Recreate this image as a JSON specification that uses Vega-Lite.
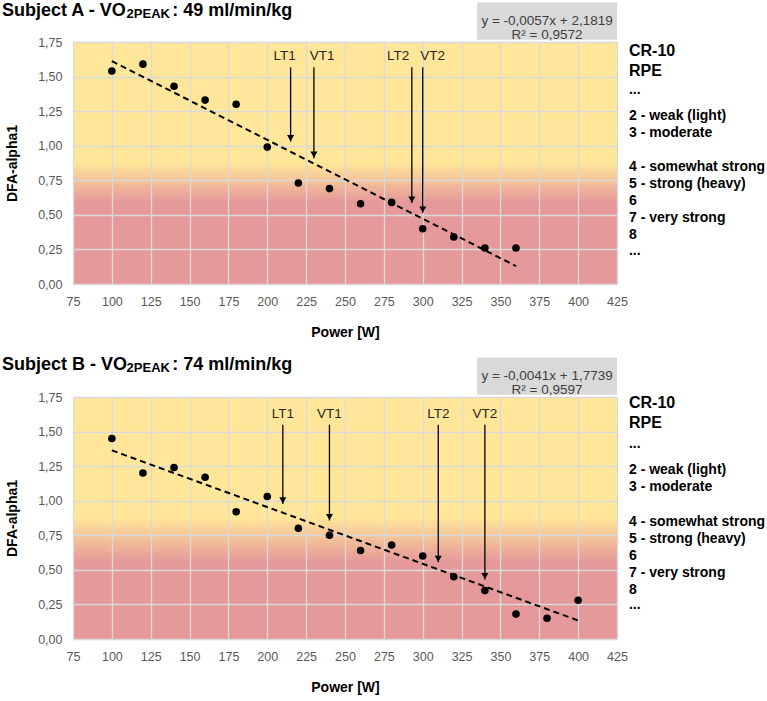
{
  "$schema": "https://vega.github.io/schema/vega-lite/v6.json",
  "padding": {"left": 1, "top": 1, "right": 0, "bottom": 0},
  "background": "#ffffff",
  "datasets": {
    "pointsA": [
      {"power": 100, "dfa": 1.54}, {"power": 120, "dfa": 1.59}, {"power": 140, "dfa": 1.43},
      {"power": 160, "dfa": 1.33}, {"power": 180, "dfa": 1.30}, {"power": 200, "dfa": 0.99},
      {"power": 220, "dfa": 0.73}, {"power": 240, "dfa": 0.69}, {"power": 260, "dfa": 0.58},
      {"power": 280, "dfa": 0.59}, {"power": 300, "dfa": 0.40}, {"power": 320, "dfa": 0.34},
      {"power": 340, "dfa": 0.26}, {"power": 360, "dfa": 0.26}
    ],
    "trendA": [{"power": 100, "dfa": 1.612}, {"power": 360, "dfa": 0.130}],
    "arrowsA": [
      {"marker": "LT1", "power": 215, "tip": 1.03},
      {"marker": "VT1", "power": 230, "tip": 0.91},
      {"marker": "LT2", "power": 293, "tip": 0.586},
      {"marker": "VT2", "power": 300, "tip": 0.513}
    ],
    "pointsB": [
      {"power": 100, "dfa": 1.45}, {"power": 120, "dfa": 1.20}, {"power": 140, "dfa": 1.24},
      {"power": 160, "dfa": 1.17}, {"power": 180, "dfa": 0.92}, {"power": 200, "dfa": 1.03},
      {"power": 220, "dfa": 0.80}, {"power": 240, "dfa": 0.75}, {"power": 260, "dfa": 0.64},
      {"power": 280, "dfa": 0.68}, {"power": 300, "dfa": 0.60}, {"power": 320, "dfa": 0.45},
      {"power": 340, "dfa": 0.35}, {"power": 360, "dfa": 0.18}, {"power": 380, "dfa": 0.15},
      {"power": 400, "dfa": 0.28}
    ],
    "trendB": [{"power": 100, "dfa": 1.364}, {"power": 400, "dfa": 0.134}],
    "arrowsB": [
      {"marker": "LT1", "power": 210, "tip": 0.977},
      {"marker": "VT1", "power": 240, "tip": 0.857},
      {"marker": "LT2", "power": 310, "tip": 0.555},
      {"marker": "VT2", "power": 340, "tip": 0.43}
    ]
  },
  "vconcat": [
    {
      "width": 544,
      "height": 242,
      "view": {"stroke": null, "fill": {"gradient": "linear", "x1": 0, "y1": 0, "x2": 0, "y2": 1, "stops": [{"offset": 0, "color": "#FFE699"}, {"offset": 0.5, "color": "#FFE699"}, {"offset": 0.66, "color": "#E6999A"}, {"offset": 1, "color": "#E6999A"}]}},
      "layer": [
        {
          "data": {"values": [{}]},
          "mark": {"type": "rect", "fill": "#D9D9D9", "clip": false},
          "encoding": {"x": {"datum": 335, "type": "quantitative"}, "x2": {"datum": 425}, "y": {"datum": 1.767, "type": "quantitative"}, "y2": {"datum": 2.035}}
        },
        {
          "data": {"values": [{}]},
          "mark": {"type": "text", "align": "center", "baseline": "middle", "fontSize": 13.5, "color": "#404040", "lineHeight": 14.8, "text": ["y = -0,0057x + 2,1819", "R² = 0,9572"]},
          "encoding": {"x": {"datum": 380, "type": "quantitative"}, "y": {"datum": 1.905, "type": "quantitative"}}
        },
        {
          "data": {"values": [{}]},
          "mark": {"type": "text", "align": "left", "baseline": "alphabetic", "fontSize": 18, "fontWeight": "bold", "color": "#000000", "text": "Subject A - VO"},
          "encoding": {"x": {"datum": 29.3, "type": "quantitative"}, "y": {"datum": 1.94, "type": "quantitative"}}
        },
        {
          "data": {"values": [{}]},
          "mark": {"type": "text", "align": "left", "baseline": "alphabetic", "fontSize": 13, "fontWeight": "bold", "color": "#000000", "dy": 2, "text": "2PEAK"},
          "encoding": {"x": {"datum": 109.5, "type": "quantitative"}, "y": {"datum": 1.94, "type": "quantitative"}}
        },
        {
          "data": {"values": [{}]},
          "mark": {"type": "text", "align": "left", "baseline": "alphabetic", "fontSize": 18, "fontWeight": "bold", "color": "#000000", "text": ": 49 ml/min/kg"},
          "encoding": {"x": {"datum": 138.9, "type": "quantitative"}, "y": {"datum": 1.94, "type": "quantitative"}}
        },
        {
          "data": {"values": [{}]},
          "mark": {"type": "text", "align": "left", "baseline": "alphabetic", "fontSize": 16, "fontWeight": "bold", "color": "#000000", "lineHeight": 19.3, "text": ["CR-10", "RPE"]},
          "encoding": {"x": {"datum": 432.7, "type": "quantitative"}, "y": {"datum": 1.646, "type": "quantitative"}}
        },
        {
          "data": {"values": [{}]},
          "mark": {"type": "text", "align": "left", "baseline": "alphabetic", "fontSize": 14, "fontWeight": "bold", "color": "#000000", "text": "..."},
          "encoding": {"x": {"datum": 432.7, "type": "quantitative"}, "y": {"datum": 1.377, "type": "quantitative"}}
        },
        {
          "data": {"values": [{}]},
          "mark": {"type": "text", "align": "left", "baseline": "alphabetic", "fontSize": 14, "fontWeight": "bold", "color": "#000000", "lineHeight": 17, "text": ["2 - weak (light)", "3 - moderate"]},
          "encoding": {"x": {"datum": 432.7, "type": "quantitative"}, "y": {"datum": 1.186, "type": "quantitative"}}
        },
        {
          "data": {"values": [{}]},
          "mark": {"type": "text", "align": "left", "baseline": "alphabetic", "fontSize": 14, "fontWeight": "bold", "color": "#000000", "lineHeight": 17, "text": ["4 - somewhat strong", "5 - strong (heavy)", "6", "7 - very strong", "8"]},
          "encoding": {"x": {"datum": 432.7, "type": "quantitative"}, "y": {"datum": 0.817, "type": "quantitative"}}
        },
        {
          "data": {"values": [{}]},
          "mark": {"type": "text", "align": "left", "baseline": "alphabetic", "fontSize": 14, "fontWeight": "bold", "color": "#000000", "text": "..."},
          "encoding": {"x": {"datum": 432.7, "type": "quantitative"}, "y": {"datum": 0.21, "type": "quantitative"}}
        },
        {
          "data": {"name": "trendA"},
          "mark": {"type": "line", "color": "#000000", "strokeWidth": 2, "strokeDash": [6, 4]},
          "encoding": {"x": {"field": "power", "type": "quantitative"}, "y": {"field": "dfa", "type": "quantitative"}}
        },
        {
          "data": {"name": "pointsA"},
          "mark": {"type": "circle", "color": "#000000", "opacity": 1, "size": 58},
          "encoding": {
            "x": {"field": "power", "type": "quantitative", "scale": {"domain": [75, 425], "nice": false, "zero": false}, "axis": {"title": "Power [W]", "tickCount": 20, "values": [75, 100, 125, 150, 175, 200, 225, 250, 275, 300, 325, 350, 375, 400, 425]}},
            "y": {"field": "dfa", "type": "quantitative", "scale": {"domain": [0, 1.75], "nice": false}, "axis": {"title": "DFA-alpha1", "tickCount": 20, "values": [0, 0.25, 0.5, 0.75, 1, 1.25, 1.5, 1.75], "labelExpr": "replace(format(datum.value, '.2f'), '.', ',')"}}
          }
        },
        {
          "data": {"name": "arrowsA"},
          "mark": {"type": "rule", "color": "#000000", "strokeWidth": 1.3},
          "encoding": {"x": {"field": "power", "type": "quantitative"}, "y": {"field": "tip", "type": "quantitative"}, "y2": {"datum": 1.567}}
        },
        {
          "data": {"name": "arrowsA"},
          "mark": {"type": "point", "shape": "triangle-down", "filled": true, "color": "#000000", "opacity": 1, "size": 50, "yOffset": -3.5},
          "encoding": {"x": {"field": "power", "type": "quantitative"}, "y": {"field": "tip", "type": "quantitative"}}
        },
        {
          "data": {"values": [{}]},
          "mark": {"type": "text", "baseline": "middle", "align": "center", "fontSize": 13.5, "color": "#262626", "text": "LT1"},
          "encoding": {"x": {"datum": 211.2, "type": "quantitative"}, "y": {"datum": 1.649, "type": "quantitative"}}
        },
        {
          "data": {"values": [{}]},
          "mark": {"type": "text", "baseline": "middle", "align": "center", "fontSize": 13.5, "color": "#262626", "text": "VT1"},
          "encoding": {"x": {"datum": 235.3, "type": "quantitative"}, "y": {"datum": 1.649, "type": "quantitative"}}
        },
        {
          "data": {"values": [{}]},
          "mark": {"type": "text", "baseline": "middle", "align": "center", "fontSize": 13.5, "color": "#262626", "text": "LT2"},
          "encoding": {"x": {"datum": 284.2, "type": "quantitative"}, "y": {"datum": 1.649, "type": "quantitative"}}
        },
        {
          "data": {"values": [{}]},
          "mark": {"type": "text", "baseline": "middle", "align": "center", "fontSize": 13.5, "color": "#262626", "text": "VT2"},
          "encoding": {"x": {"datum": 306.3, "type": "quantitative"}, "y": {"datum": 1.649, "type": "quantitative"}}
        }
      ]
    },
    {
      "width": 544,
      "height": 242,
      "view": {"stroke": null, "fill": {"gradient": "linear", "x1": 0, "y1": 0, "x2": 0, "y2": 1, "stops": [{"offset": 0, "color": "#FFE699"}, {"offset": 0.5, "color": "#FFE699"}, {"offset": 0.68, "color": "#E6999A"}, {"offset": 1, "color": "#E6999A"}]}},
      "layer": [
        {
          "data": {"values": [{}]},
          "mark": {"type": "rect", "fill": "#D9D9D9", "clip": false},
          "encoding": {"x": {"datum": 335, "type": "quantitative"}, "x2": {"datum": 425}, "y": {"datum": 1.767, "type": "quantitative"}, "y2": {"datum": 2.035}}
        },
        {
          "data": {"values": [{}]},
          "mark": {"type": "text", "align": "center", "baseline": "middle", "fontSize": 13.5, "color": "#404040", "lineHeight": 14.8, "text": ["y = -0,0041x + 1,7739", "R² = 0,9597"]},
          "encoding": {"x": {"datum": 380, "type": "quantitative"}, "y": {"datum": 1.905, "type": "quantitative"}}
        },
        {
          "data": {"values": [{}]},
          "mark": {"type": "text", "align": "left", "baseline": "alphabetic", "fontSize": 18, "fontWeight": "bold", "color": "#000000", "text": "Subject B - VO"},
          "encoding": {"x": {"datum": 29.3, "type": "quantitative"}, "y": {"datum": 1.943, "type": "quantitative"}}
        },
        {
          "data": {"values": [{}]},
          "mark": {"type": "text", "align": "left", "baseline": "alphabetic", "fontSize": 13, "fontWeight": "bold", "color": "#000000", "dy": 2, "text": "2PEAK"},
          "encoding": {"x": {"datum": 109.5, "type": "quantitative"}, "y": {"datum": 1.943, "type": "quantitative"}}
        },
        {
          "data": {"values": [{}]},
          "mark": {"type": "text", "align": "left", "baseline": "alphabetic", "fontSize": 18, "fontWeight": "bold", "color": "#000000", "text": ": 74 ml/min/kg"},
          "encoding": {"x": {"datum": 138.9, "type": "quantitative"}, "y": {"datum": 1.943, "type": "quantitative"}}
        },
        {
          "data": {"values": [{}]},
          "mark": {"type": "text", "align": "left", "baseline": "alphabetic", "fontSize": 16, "fontWeight": "bold", "color": "#000000", "lineHeight": 19.3, "text": ["CR-10", "RPE"]},
          "encoding": {"x": {"datum": 432.7, "type": "quantitative"}, "y": {"datum": 1.668, "type": "quantitative"}}
        },
        {
          "data": {"values": [{}]},
          "mark": {"type": "text", "align": "left", "baseline": "alphabetic", "fontSize": 14, "fontWeight": "bold", "color": "#000000", "text": "..."},
          "encoding": {"x": {"datum": 432.7, "type": "quantitative"}, "y": {"datum": 1.379, "type": "quantitative"}}
        },
        {
          "data": {"values": [{}]},
          "mark": {"type": "text", "align": "left", "baseline": "alphabetic", "fontSize": 14, "fontWeight": "bold", "color": "#000000", "lineHeight": 17, "text": ["2 - weak (light)", "3 - moderate"]},
          "encoding": {"x": {"datum": 432.7, "type": "quantitative"}, "y": {"datum": 1.19, "type": "quantitative"}}
        },
        {
          "data": {"values": [{}]},
          "mark": {"type": "text", "align": "left", "baseline": "alphabetic", "fontSize": 14, "fontWeight": "bold", "color": "#000000", "lineHeight": 17.1, "text": ["4 - somewhat strong", "5 - strong (heavy)", "6", "7 - very strong", "8"]},
          "encoding": {"x": {"datum": 432.7, "type": "quantitative"}, "y": {"datum": 0.82, "type": "quantitative"}}
        },
        {
          "data": {"values": [{}]},
          "mark": {"type": "text", "align": "left", "baseline": "alphabetic", "fontSize": 14, "fontWeight": "bold", "color": "#000000", "text": "..."},
          "encoding": {"x": {"datum": 432.7, "type": "quantitative"}, "y": {"datum": 0.215, "type": "quantitative"}}
        },
        {
          "data": {"name": "trendB"},
          "mark": {"type": "line", "color": "#000000", "strokeWidth": 2, "strokeDash": [6, 4]},
          "encoding": {"x": {"field": "power", "type": "quantitative"}, "y": {"field": "dfa", "type": "quantitative"}}
        },
        {
          "data": {"name": "pointsB"},
          "mark": {"type": "circle", "color": "#000000", "opacity": 1, "size": 58},
          "encoding": {
            "x": {"field": "power", "type": "quantitative", "scale": {"domain": [75, 425], "nice": false, "zero": false}, "axis": {"title": "Power [W]", "tickCount": 20, "values": [75, 100, 125, 150, 175, 200, 225, 250, 275, 300, 325, 350, 375, 400, 425]}},
            "y": {"field": "dfa", "type": "quantitative", "scale": {"domain": [0, 1.75], "nice": false}, "axis": {"title": "DFA-alpha1", "tickCount": 20, "values": [0, 0.25, 0.5, 0.75, 1, 1.25, 1.5, 1.75], "labelExpr": "replace(format(datum.value, '.2f'), '.', ',')"}}
          }
        },
        {
          "data": {"name": "arrowsB"},
          "mark": {"type": "rule", "color": "#000000", "strokeWidth": 1.3},
          "encoding": {"x": {"field": "power", "type": "quantitative"}, "y": {"field": "tip", "type": "quantitative"}, "y2": {"datum": 1.55}}
        },
        {
          "data": {"name": "arrowsB"},
          "mark": {"type": "point", "shape": "triangle-down", "filled": true, "color": "#000000", "opacity": 1, "size": 50, "yOffset": -3.5},
          "encoding": {"x": {"field": "power", "type": "quantitative"}, "y": {"field": "tip", "type": "quantitative"}}
        },
        {
          "data": {"name": "arrowsB"},
          "mark": {"type": "text", "baseline": "middle", "align": "center", "fontSize": 13.5, "color": "#262626"},
          "encoding": {"x": {"field": "power", "type": "quantitative"}, "y": {"datum": 1.63, "type": "quantitative"}, "text": {"field": "marker", "type": "nominal"}}
        }
      ]
    }
  ],
  "spacing": 113,
  "bounds": "flush",
  "config": {
    "font": "Liberation Sans",
    "view": {"stroke": null},
    "axis": {
      "grid": true, "gridColor": "#D9D9D9", "gridWidth": 1.3, "domain": false, "ticks": false,
      "labelOverlap": false, "labelFlush": false,
      "labelFont": "Liberation Sans", "labelFontSize": 12.5, "labelColor": "#595959",
      "titleFont": "Liberation Sans", "titleFontSize": 14, "titleFontWeight": "bold", "titleColor": "#000000"
    },
    "axisX": {"titlePadding": 17.5, "labelPadding": 11.5},
    "axisY": {"titlePadding": 18.5, "labelPadding": 11}
  }
}
